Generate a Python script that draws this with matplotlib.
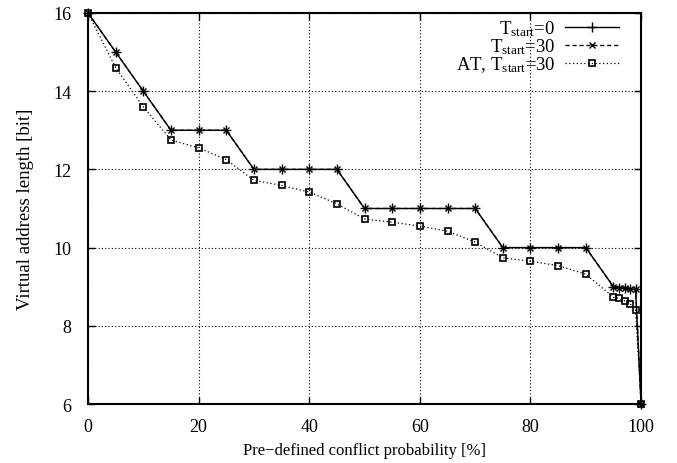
import numpy as np
import matplotlib.pyplot as plt

plt.rcParams['font.family'] = ['Liberation Serif', 'DejaVu Serif']
plt.rcParams['mathtext.fontset'] = 'custom'
plt.rcParams['mathtext.rm'] = 'Liberation Serif'
plt.rcParams['mathtext.it'] = 'Liberation Serif:italic'
plt.rcParams['font.size'] = 13

## data
prob = [0, 5, 10, 15, 20, 25, 30, 35, 40, 45, 50, 55, 60, 65, 70,
        75, 80, 85, 90, 95, 96, 97, 98, 99, 100]
len_t0 = [16, 15, 14, 13, 13, 13, 12, 12, 12, 12, 11, 11, 11, 11, 11,
          10, 10, 10, 10, 9.0, 8.98, 8.96, 8.95, 8.93, 6]
len_t30 = [16, 15, 14, 13, 13, 13, 12, 12, 12, 12, 11, 11, 11, 11, 11,
           10, 10, 10, 10, 9.0, 8.98, 8.96, 8.95, 8.93, 6]
len_at30 = [16, 14.6, 13.6, 12.75, 12.55, 12.25, 11.72, 11.59, 11.42, 11.12,
            10.73, 10.65, 10.55, 10.42, 10.14, 9.74, 9.65, 9.54, 9.32,
            8.73, 8.70, 8.64, 8.57, 8.40, 6]

fig = plt.figure(figsize=(6.77, 4.64), dpi=100)
ax = fig.add_axes([0.130, 0.127, 0.817, 0.843])

ax.plot(prob, len_t0, color='black', lw=1.0, ls='-', marker='+', ms=7,
        mew=1.0, clip_on=False, label=r'T$_{\mathrm{start}}$=0')
ax.plot(prob, len_t30, color='black', lw=1.0, ls=(0, (3, 2)), marker='x',
        ms=5, mew=1.0, clip_on=False, label=r'T$_{\mathrm{start}}$=30')
ax.plot(prob, len_at30, color='black', lw=0.9, ls=(0, (1, 2)), marker='s',
        ms=4.8, mew=1.2, mfc='none', clip_on=False,
        label=r'AT, T$_{\mathrm{start}}$=30')

ax.set_xlim(0, 100)
ax.set_ylim(6, 16)
ax.set_xticks(np.arange(0, 101, 20))
ax.set_yticks(np.arange(6, 17, 2))
ax.grid(True, color='black', ls=(0, (1, 2)), lw=0.8)
ax.tick_params(direction='in', top=True, right=True, length=5, width=1,
               labelsize=13)
ax.tick_params(axis='x', pad=10)
ax.tick_params(axis='y', pad=12)
for s in ax.spines.values():
    s.set_linewidth(1.5)

ax.set_xlabel('Pre\u2212defined conflict probability [%]', fontsize=12, labelpad=5)
ax.set_ylabel('Virtual address length [bit]', fontsize=13.5, labelpad=14)

leg = ax.legend(loc='upper right', bbox_to_anchor=(0.96, 0.985),
                markerfirst=False, frameon=False, fontsize=13.5,
                handlelength=2.9, borderaxespad=0, borderpad=0,
                labelspacing=-0.1, handletextpad=0.5)
for t in leg.get_texts():
    t.set_ha('right')

fig.savefig('out.png', dpi=100)
